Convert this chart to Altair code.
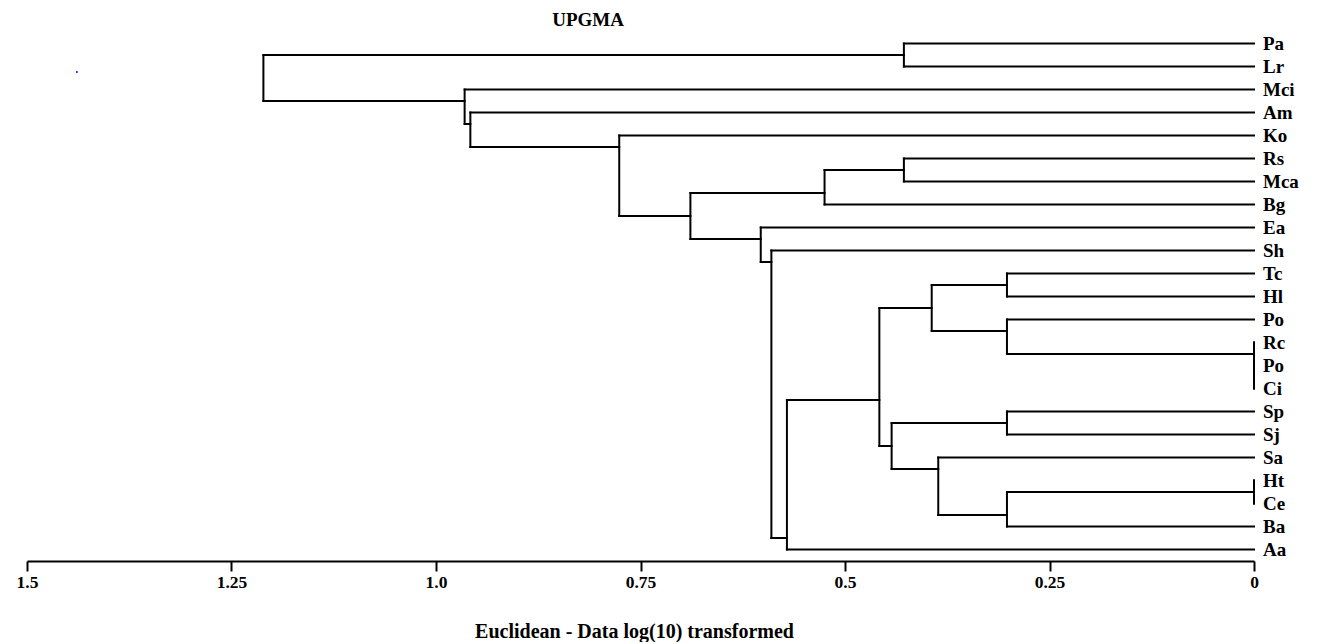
import altair as alt
import pandas as pd

# ---- data -------------------------------------------------------------
leaves = ["Pa", "Lr", "Mci", "Am", "Ko", "Rs", "Mca", "Bg", "Ea", "Sh", "Tc",
          "Hl", "Po", "Rc", "Po", "Ci", "Sp", "Sj", "Sa", "Ht", "Ce", "Ba", "Aa"]

# R-style merge table: negative = leaf (-(index+1)), positive = cluster number
merge_a = [-1, -6, 2, -11, -15, -14, -13, 4, -17, -20, 10, -19, 9, 8, 14, -10, -9, 3, -5, -4, -3, 1]
merge_b = [-2, -7, -8, -12, -16, 5, 6, 7, -18, -21, -22, 11, 12, 13, -23, 15, 16, 17, 18, 19, 20, 21]
merge_h = [0.428, 0.428, 0.525, 0.302, 0.0, 0.0, 0.302, 0.394, 0.302, 0.0, 0.302,
           0.386, 0.443, 0.458, 0.571, 0.590, 0.603, 0.689, 0.776, 0.958, 0.965, 1.211]

tick_values = [1.5, 1.25, 1.0, 0.75, 0.5, 0.25, 0.0]
tick_labels = ["1.5", "1.25", "1.0", "0.75", "0.5", "0.25", "0"]

# small stray blue speck visible in the original figure (distance, leaf-row units)
speck_x = [1.439]
speck_y = [1.24]

# ---- build dendrogram segments from the merge table -------------------
pos, last, hgt = {}, {}, {}

def ypos(c):
    return -c - 1 if c < 0 else pos[c]

def lastleaf(c):
    return -c - 1 if c < 0 else last[c]

def height(c):
    return 0.0 if c < 0 else hgt[c]

rows = []
for k, (a, b, h) in enumerate(zip(merge_a, merge_b, merge_h), start=1):
    pos[k] = lastleaf(a) + 0.5
    last[k] = lastleaf(b)
    hgt[k] = h
    rows.append(dict(x=h, x2=h, y=ypos(a), y2=ypos(b)))
    for c in (a, b):
        rows.append(dict(x=height(c), x2=h, y=ypos(c), y2=ypos(c)))
seg = pd.DataFrame(rows)

lab = pd.DataFrame({"name": leaves, "i": list(range(len(leaves))), "x": [0.0] * len(leaves)})
speck = pd.DataFrame({"x": speck_x, "y": speck_y})

label_expr = " : ".join(
    f"datum.value == {v} ? '{t}'" for v, t in zip(tick_values, tick_labels)
) + " : ''"

FONT = "Liberation Serif"

xscale = alt.Scale(domain=[0, 1.5], reverse=True, nice=False, zero=False)
yscale = alt.Scale(domain=[-0.5, len(leaves) - 0.5], reverse=True, nice=False, zero=False)

lines = alt.Chart(seg).mark_rule(color="black", strokeWidth=2, strokeCap="square").encode(
    x=alt.X("x:Q", scale=xscale, axis=alt.Axis(
        values=tick_values, labelExpr=label_expr, grid=False,
        domainColor="black", domainWidth=2, tickColor="black", tickWidth=2, tickSize=10,
        labelFont=FONT, labelFontWeight="bold", labelFontSize=17.5, labelColor="black",
        labelPadding=2, labelFlush=False, labelOverlap=False,
        title="Euclidean - Data log(10) transformed", titleFont=FONT,
        titleFontWeight="bold", titleFontSize=20, titleColor="black",
        titleX=607, titleY=76, titleBaseline="alphabetic", titleAlign="center")),
    x2="x2:Q",
    y=alt.Y("y:Q", scale=yscale, axis=None),
    y2="y2:Q",
)

texts = alt.Chart(lab).mark_text(
    align="left", baseline="middle", dx=9, font=FONT, fontWeight="bold",
    fontSize=19, color="black"
).encode(
    x=alt.X("x:Q", scale=xscale),
    y=alt.Y("i:Q", scale=yscale),
    text="name:N",
)

dot = alt.Chart(speck).mark_point(filled=True, color="#1010d0", size=4, opacity=1).encode(
    x=alt.X("x:Q", scale=xscale),
    y=alt.Y("y:Q", scale=yscale),
)

chart = alt.layer(lines, texts, dot).properties(
    width=1227, height=529,
    title=alt.TitleParams("UPGMA", anchor="start", align="center", dx=572, dy=17, offset=4,
                          baseline="alphabetic", font=FONT, fontWeight="bold",
                          fontSize=19, color="black"),
    autosize=alt.AutoSizeParams(type="none"),
    padding={"left": 19, "top": 24, "right": 45, "bottom": 81},
).configure_view(stroke=None)

chart.save("out.html", embed_options={"renderer": "svg", "actions": False})
